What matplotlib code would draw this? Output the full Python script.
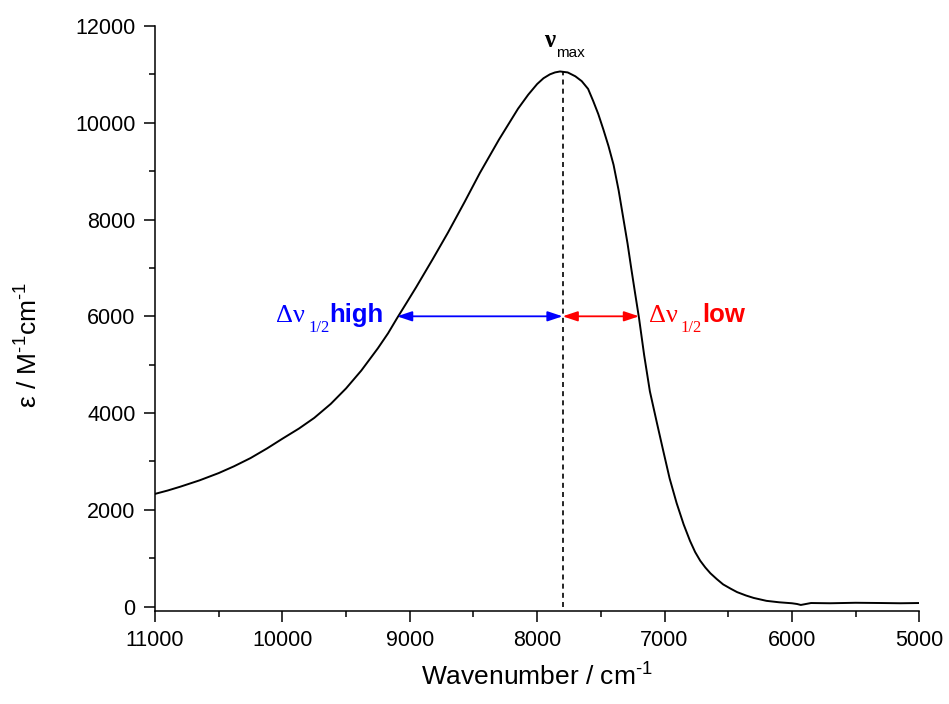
import matplotlib
matplotlib.use('Agg')
import matplotlib.pyplot as plt
from matplotlib.ticker import MultipleLocator, FixedLocator

# ---- data ----
wavenumber = [11000, 10900, 10800, 10650, 10500, 10380, 10250, 10120, 10000, 9870,
              9750, 9620, 9500, 9380, 9250, 9170, 9100, 9020, 8950, 8820,
              8700, 8570, 8450, 8300, 8150, 8070, 8000, 7950, 7900, 7860,
              7820, 7760, 7700, 7650, 7600, 7560, 7520, 7480, 7440, 7400,
              7360, 7325, 7290, 7260, 7230, 7200, 7160, 7115, 7060, 7010,
              6960, 6905, 6850, 6800, 6760, 6720, 6680, 6640, 6590, 6540,
              6480, 6430, 6360, 6300, 6200, 6100, 6000, 5960, 5930, 5900,
              5850, 5700, 5500, 5300, 5150, 5000]
epsilon = [2330, 2400, 2480, 2610, 2760, 2900, 3070, 3270, 3470, 3680,
           3900, 4190, 4510, 4880, 5340, 5650, 5960, 6300, 6600, 7180,
           7730, 8360, 8960, 9650, 10290, 10580, 10800, 10920, 11000, 11040,
           11060, 11040, 10960, 10860, 10700, 10450, 10180, 9860, 9520, 9130,
           8600, 8050, 7500, 6970, 6460, 5960, 5200, 4450, 3800, 3220,
           2650, 2140, 1700, 1360, 1130, 950, 810, 690, 570, 460,
           370, 300, 230, 180, 120, 90, 70, 55, 35, 50,
           75, 70, 80, 75, 70, 75]

nu_max = 7800
eps_max = 11060
half_level = 6000
nu_half_high = 9100
nu_half_low = 7200

x_ticks = [11000, 10000, 9000, 8000, 7000, 6000, 5000]
y_ticks = [0, 2000, 4000, 6000, 8000, 10000, 12000]

x_label_text = r'Wavenumber / cm$^{\text{-1}}$'
y_label_text = r'ε / M$^{\text{-1}}$cm$^{\text{-1}}$'

# ---- style ----
plt.rcParams['font.family'] = ['Liberation Sans', 'DejaVu Sans']
plt.rcParams['mathtext.fontset'] = 'custom'
plt.rcParams['mathtext.rm'] = 'Liberation Sans'
plt.rcParams['mathtext.it'] = 'Liberation Sans:italic'
plt.rcParams['mathtext.bf'] = 'Liberation Sans:bold'

fig = plt.figure(figsize=(9.49, 7.04), dpi=100)
ax = fig.add_axes([0.1633, 0.1321, 0.8054, 0.831])

ax.plot(wavenumber, epsilon, color='black', lw=1.4)
ax.plot([nu_max, nu_max], [0, eps_max], color='black', lw=1.2,
        linestyle=(0, (3, 2.5)))

arrow_style = '<|-|>,head_length=0.6,head_width=0.2'
ax.annotate('', xy=(nu_half_high, half_level), xytext=(nu_max, half_level),
            arrowprops=dict(arrowstyle=arrow_style, color='blue', lw=1.3,
                            shrinkA=0, shrinkB=0, mutation_scale=15))
ax.annotate('', xy=(nu_half_low, half_level), xytext=(nu_max, half_level),
            arrowprops=dict(arrowstyle=arrow_style, color='red', lw=1.3,
                            shrinkA=0, shrinkB=0, mutation_scale=15))

serif = ['Liberation Serif', 'DejaVu Serif']

# blue label
ax.annotate('Δν', xy=(nu_half_high, half_level), xytext=(-121, -6),
            textcoords='offset pixels', ha='left', va='baseline',
            color='blue', fontsize=19, family=serif)
ax.annotate('1/2', xy=(nu_half_high, half_level), xytext=(-89, -16),
            textcoords='offset pixels', ha='left', va='baseline',
            color='blue', fontsize=12, family=serif)
ax.annotate('high', xy=(nu_half_high, half_level), xytext=(-68, -6),
            textcoords='offset pixels', ha='left', va='baseline',
            color='blue', fontsize=18.5, fontweight='bold')

# red label
ax.annotate('Δν', xy=(nu_half_low, half_level), xytext=(10, -6),
            textcoords='offset pixels', ha='left', va='baseline',
            color='red', fontsize=19, family=serif)
ax.annotate('1/2', xy=(nu_half_low, half_level), xytext=(41, -16),
            textcoords='offset pixels', ha='left', va='baseline',
            color='red', fontsize=12, family=serif)
ax.annotate('low', xy=(nu_half_low, half_level), xytext=(63, -6),
            textcoords='offset pixels', ha='left', va='baseline',
            color='red', fontsize=18.5, fontweight='bold')

# nu_max label
ax.annotate('ν', xy=(nu_max, eps_max), xytext=(-19, 24),
            textcoords='offset pixels', ha='left', va='baseline',
            color='black', fontsize=18, family=serif, fontweight='bold')
ax.annotate('max', xy=(nu_max, eps_max), xytext=(-7, 14),
            textcoords='offset pixels', ha='left', va='baseline',
            color='black', fontsize=11)

# axes
ax.set_xlim(11000, 5000)
ax.set_ylim(-90, 12000)
ax.xaxis.set_major_locator(FixedLocator(x_ticks))
ax.yaxis.set_major_locator(FixedLocator(y_ticks))
ax.xaxis.set_minor_locator(MultipleLocator(500))
ax.yaxis.set_minor_locator(MultipleLocator(1000))
ax.set_xticklabels([str(v) for v in x_ticks])
ax.set_yticklabels([str(v) for v in y_ticks])

for s in ['top', 'right']:
    ax.spines[s].set_visible(False)
for s in ['left', 'bottom']:
    ax.spines[s].set_linewidth(1.1)

ax.tick_params(which='major', length=8, width=1.1, labelsize=15.5,
               direction='out', pad=6, colors='black')
ax.tick_params(which='minor', length=4, width=1.1, direction='out')

ax.set_xlabel(x_label_text, fontsize=19)
ax.set_ylabel(y_label_text, fontsize=19)
ax.xaxis.set_label_coords(0.5, -0.09)
ax.xaxis.label.set_va('top')
ax.yaxis.set_label_coords(-0.147, 0.455)

fig.savefig('out.png', dpi=100)
